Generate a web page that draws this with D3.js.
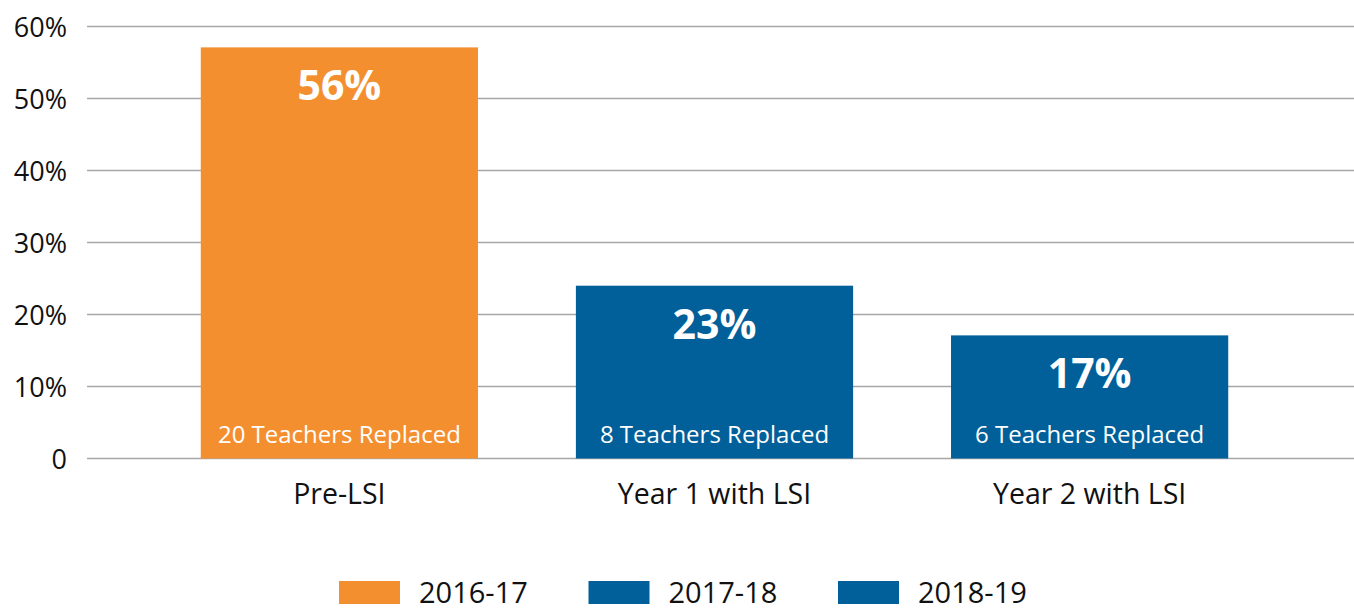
<!DOCTYPE html>
<html>
<head>
<meta charset="utf-8">
<script src="https://cdn.jsdelivr.net/npm/d3@7"></script>
<style>
  body { margin: 0; background: #fff; }
  svg { display: block; font-family: "Open Sans", sans-serif; }
</style>
</head>
<body>
<div id="chart"></div>
<script>
// teacher turnover bars, one per year

const categories = ["Pre-LSI", "Year 1 with LSI", "Year 2 with LSI"];
const years = ["2016-17", "2017-18", "2018-19"];
const values = [57.1, 24.0, 17.1];          // bar heights
const valueLabels = ["56%", "23%", "17%"];  // printed labels
const replaced = ["20 Teachers Replaced", "8 Teachers Replaced", "6 Teachers Replaced"];
const yTicks = [0, 10, 20, 30, 40, 50, 60];
const colors = ["#F48F2F", "#01609A", "#01609A"];

const width = 1354, height = 608;

const svg = d3.select("#chart")
  .append("svg")
  .attr("width", width)
  .attr("height", height);

const x = d3.scaleBand()
  .domain(categories)
  .range([152, 1277])
  .paddingInner(0.261)
  .paddingOuter(0.13);

const y = d3.scaleLinear()
  .domain([0, 60])
  .range([458.5, 26.5]);

// gridlines
svg.append("g")
  .selectAll("line")
  .data(yTicks)
  .join("line")
  .attr("x1", 87)
  .attr("x2", width)
  .attr("y1", d => y(d))
  .attr("y2", d => y(d))
  .attr("stroke", "#A6A6A6")
  .attr("stroke-width", 1.5);

// y tick labels
svg.append("g")
  .attr("font-size", 27)
  .attr("text-anchor", "end")
  .attr("fill", "#111")
  .selectAll("text")
  .data(yTicks)
  .join("text")
  .attr("x", 67)
  .attr("y", d => y(d) + 10)
  .text(d => d === 0 ? "0" : d + "%");

const rows = categories.map((c, i) => ({c, v: values[i], lab: valueLabels[i], rep: replaced[i], col: colors[i]}));

// bars
svg.append("g")
  .selectAll("rect")
  .data(rows)
  .join("rect")
  .attr("x", d => x(d.c))
  .attr("y", d => y(d.v))
  .attr("width", x.bandwidth())
  .attr("height", d => y(0) - y(d.v))
  .attr("fill", d => d.col);

// big percent labels
svg.append("g")
  .attr("font-size", 41)
  .attr("font-weight", "bold")
  .attr("text-anchor", "middle")
  .attr("fill", "#fff")
  .selectAll("text")
  .data(rows)
  .join("text")
  .attr("x", d => x(d.c) + x.bandwidth() / 2)
  .attr("y", d => y(d.v) + 53)
  .text(d => d.lab);

// teachers replaced
svg.append("g")
  .attr("font-size", 24)
  .attr("text-anchor", "middle")
  .attr("fill", "#fff")
  .selectAll("text")
  .data(rows)
  .join("text")
  .attr("x", d => x(d.c) + x.bandwidth() / 2)
  .attr("y", 443)
  .text(d => d.rep);

// category labels
svg.append("g")
  .attr("font-size", 28.5)
  .attr("text-anchor", "middle")
  .attr("fill", "#111")
  .selectAll("text")
  .data(categories)
  .join("text")
  .attr("x", d => x(d) + x.bandwidth() / 2)
  .attr("y", 504)
  .text(d => d);

// legend
const leg = svg.append("g")
  .selectAll("g")
  .data(years)
  .join("g")
  .attr("transform", (d, i) => `translate(${339 + i * 249.5},581)`);

leg.append("rect")
  .attr("width", 61)
  .attr("height", 23)
  .attr("fill", (d, i) => colors[i]);

leg.append("text")
  .attr("x", 80)
  .attr("y", 22)
  .attr("font-size", 29)
  .attr("fill", "#111")
  .text(d => d);
</script>
</body>
</html>
